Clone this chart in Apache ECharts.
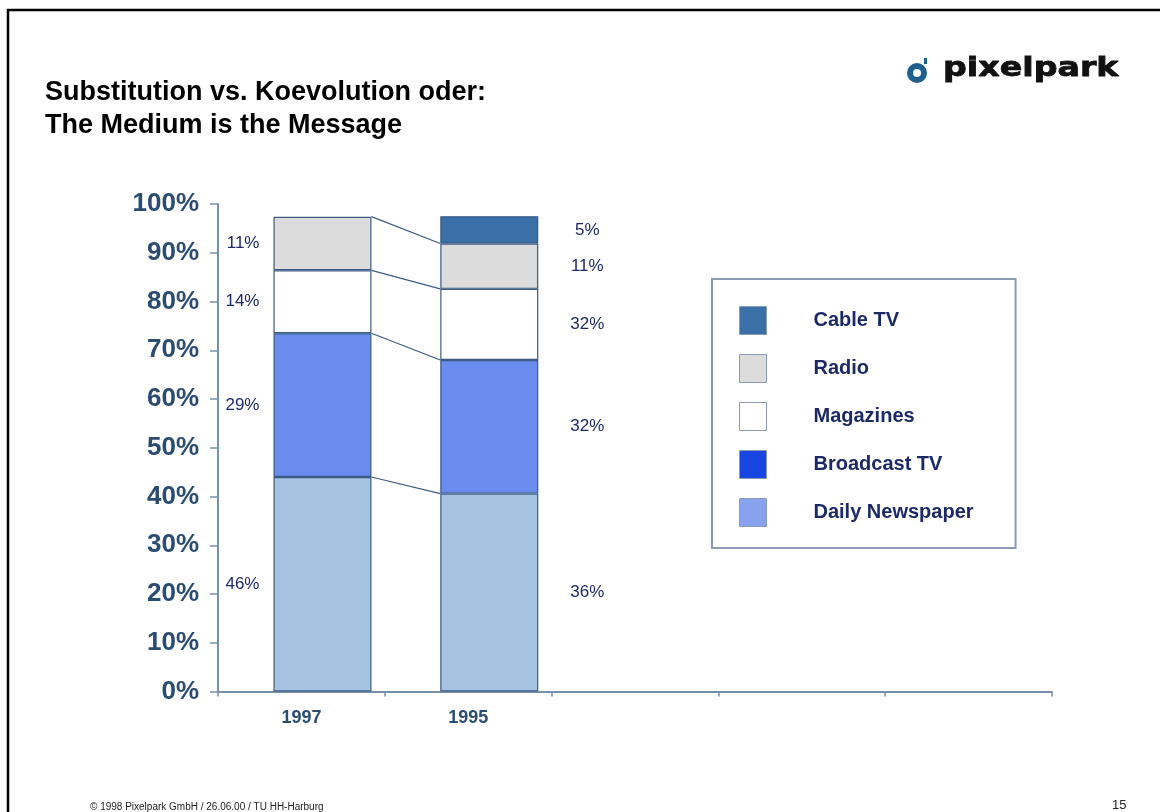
<!DOCTYPE html>
<html>
<head>
<meta charset="utf-8">
<script src="https://cdn.jsdelivr.net/npm/echarts@6/dist/echarts.min.js"></script>
<style>
html, body { margin: 0; padding: 0; background: #fff; }
#chart { width: 1160px; height: 812px; }
</style>
</head>
<body>
<div id="chart"></div>
<script>
// x slots: two years used, three empty slots to the right
const slots = ['1997', '1995', '', '', ''];

// bar segment heights (% of axis)
const newspaper = [44.0, 40.6];
const broadcast = [29.5, 27.4];
const magazines = [12.9, 14.6];
const radio = [11.0, 9.3];
const cable = [null, 5.6];

// printed labels (they do not match the bar heights in the original)
const newspaperLbl = ['46%', '36%'];
const broadcastLbl = ['29%', '32%'];
const magazinesLbl = ['14%', '32%'];
const radioLbl = ['11%', '11%'];
const cableLbl = ['', '5%'];

const legendNames = ['Cable TV', 'Radio', 'Magazines', 'Broadcast TV', 'Daily Newspaper'];
const legendColors = ['#3a70a8', '#dcdcdc', '#ffffff', '#1846e0', '#88a2f0'];

const FONT = '"Liberation Sans", Arial, sans-serif';
const AXIS = '#7890aa';
const EDGE = '#3b5b84';
const LBL = '#1b2a66';
const BAR_W = 98;
const BAR_GAP = -0.57;

const chart = echarts.init(document.getElementById('chart'));

function segData(vals, lbls) {
  return vals.map((v, i) => ({
    value: v,
    label: i === 0
      ? { show: !!lbls[i], position: 'left', distance: 14, formatter: lbls[i] }
      : { show: !!lbls[i], position: 'right', distance: 49, align: 'center', formatter: lbls[i] }
  }));
}

function barSeries(name, vals, lbls, color) {
  return {
    name: name,
    type: 'bar',
    stack: 'media',
    barWidth: BAR_W,
    barGap: (BAR_GAP * 100) + '%',
    itemStyle: { color: color, borderColor: EDGE, borderWidth: 1.2 },
    label: { color: LBL, fontSize: 17, fontFamily: FONT },
    data: segData(vals, lbls)
  };
}

// cumulative tops for the connecting lines
const stacks = [newspaper, broadcast, magazines, radio];
const cum = [];
let run = [0, 0];
stacks.forEach(s => {
  run = [run[0] + (s[0] || 0), run[1] + (s[1] || 0)];
  cum.push([0, run[0], run[1]]);
});

const option = {
  animation: false,
  title: {
    text: 'Substitution vs. Koevolution oder:\nThe Medium is the Message',
    left: 40,
    top: 71,
    textStyle: { fontFamily: FONT, fontSize: 27, fontWeight: 'bold', color: '#000', lineHeight: 33 }
  },
  grid: { left: 218, right: 108, top: 204, bottom: 120.5 },
  legend: {
    orient: 'vertical',
    left: 712,
    top: 279,
    padding: [27, 42, 21, 27],
    borderColor: '#8a9bb4',
    borderWidth: 2,
    itemWidth: 27,
    itemHeight: 28,
    itemGap: 19,
    selectedMode: false,
    icon: 'rect',
    textStyle: { color: LBL, fontSize: 20, fontWeight: 'bold', fontFamily: FONT, padding: [0, 0, 0, 42] },
    data: legendNames.map((n, i) => ({
      name: n,
      itemStyle: { color: legendColors[i], borderColor: '#8a9bb4', borderWidth: 1 }
    }))
  },
  xAxis: {
    type: 'category',
    data: slots,
    boundaryGap: true,
    axisLine: { lineStyle: { color: AXIS, width: 2 } },
    axisTick: { show: true, length: 5, lineStyle: { color: AXIS, width: 1.5 } },
    axisLabel: { color: '#2b4c72', fontSize: 18, fontWeight: 'bold', fontFamily: FONT, margin: 18 }
  },
  yAxis: {
    type: 'value',
    min: 0,
    max: 100,
    interval: 10,
    splitLine: { show: false },
    axisLine: { show: true, lineStyle: { color: AXIS, width: 2 } },
    axisTick: { show: true, length: 8, lineStyle: { color: AXIS, width: 1.5 } },
    axisLabel: { formatter: '{value}%', color: '#2b4c72', fontSize: 26, fontWeight: 'bold', fontFamily: FONT, margin: 19 }
  },
  series: [
    { name: 'pad', type: 'bar', stack: 'pad', barWidth: BAR_W, barGap: (BAR_GAP * 100) + '%', data: [null, null] },
    barSeries('Daily Newspaper', newspaper, newspaperLbl, '#a6c3e2'),
    barSeries('Broadcast TV', broadcast, broadcastLbl, '#6a8cee'),
    barSeries('Magazines', magazines, magazinesLbl, '#ffffff'),
    barSeries('Radio', radio, radioLbl, '#dcdcdc'),
    barSeries('Cable TV', cable, cableLbl, '#3a70a8'),
    {
      name: 'links',
      type: 'custom',
      encode: { x: 0, y: [1, 2] },
      data: cum,
      renderItem(params, api) {
        const a = api.coord([0, api.value(1)]);
        const b = api.coord([1, api.value(2)]);
        const off = BAR_W * (1 + BAR_GAP) / 2;
        return {
          type: 'line',
          shape: { x1: a[0] + off + BAR_W / 2, y1: a[1], x2: b[0] + off - BAR_W / 2, y2: b[1] },
          style: { stroke: EDGE, lineWidth: 1.2 }
        };
      }
    }
  ],
  graphic: [
    { type: 'rect', shape: { x: 8, y: 10, width: 1200, height: 900 }, style: { fill: 'none', stroke: '#000', lineWidth: 2.5 }, silent: true },
    { type: 'ring', shape: { cx: 917, cy: 73, r: 10, r0: 4 }, style: { fill: '#1e5f8e' } },
    { type: 'rect', shape: { x: 924, y: 58, width: 3, height: 6 }, style: { fill: '#1e5f8e' } },
    {
      type: 'text', x: 943, y: 69, scaleX: 1.28,
      style: { text: 'pixelpark', font: 'bold 26px "DejaVu Sans"', fill: '#111', stroke: '#111', lineWidth: 0.8, verticalAlign: 'middle' }
    },
    {
      type: 'text', x: 90, y: 807,
      style: { text: '\u00a9 1998 Pixelpark GmbH / 26.06.00 / TU HH-Harburg', font: '10px ' + FONT, fill: '#222', verticalAlign: 'middle' }
    },
    {
      type: 'text', x: 1112, y: 805,
      style: { text: '15', font: '13px ' + FONT, fill: '#222', verticalAlign: 'middle' }
    }
  ]
};

chart.setOption(option);
</script>
</body>
</html>
